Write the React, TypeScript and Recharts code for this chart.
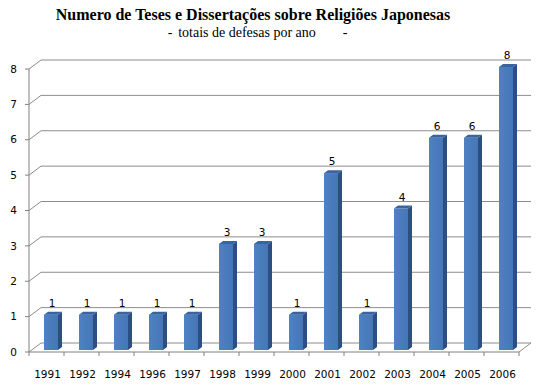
import React from 'react';
import { BarChart, Bar, XAxis, YAxis, CartesianGrid, LabelList } from 'recharts';

const years = ['1991', '1992', '1994', '1996', '1997', '1998', '1999', '2000', '2001', '2002', '2003', '2004', '2005', '2006'];
const defesas = [1, 1, 1, 1, 1, 3, 3, 1, 5, 1, 4, 6, 6, 8];
const yTicks = [0, 1, 2, 3, 4, 5, 6, 7, 8];

const titleText = 'Numero de Teses e Dissertações sobre Religiões Japonesas';
const subtitleText = 'totais de defesas por ano';

const data = years.map((y, i) => ({ year: y, value: defesas[i] }));

const W = 542;
const H = 388;
const XH = 30;
const M = { top: 69, right: 23, bottom: 6, left: 0 };
const YW = 29;
const DX = 12;
const DY = -9;
const BW = (W - YW - M.right) / years.length;
const floorY = H - M.bottom - XH;

const Bar3D = (props: any) => {
  const { x, y, width, height } = props;
  if (height == null || height <= 0) return null;
  const fx = x + 4;
  const fy = y - 2;
  const w = width;
  const h = height;
  const d = 4;
  const u = 3;
  return (
    <g>
      <rect x={fx} y={fy} width={w} height={h} fill="url(#frontGrad)" />
      <polygon
        points={`${fx},${fy} ${fx + d},${fy - u} ${fx + w + d},${fy - u} ${fx + w},${fy}`}
        fill="#3a64a0"
      />
      <polygon
        points={`${fx + w},${fy} ${fx + w + d},${fy - u} ${fx + w + d},${fy + h - u} ${fx + w},${fy + h}`}
        fill="#2b4f82"
      />
    </g>
  );
};

const ValueLabel = (props: any) => {
  const { x, y, width, value } = props;
  return (
    <text
      x={x + 4 + width / 2 + 1}
      y={y - 10}
      textAnchor="middle"
      fontFamily="DejaVu Sans"
      fontSize={10.5}
      fill="#000"
    >
      {value}
    </text>
  );
};

const GridLine = (props: any) => {
  const { x1, y1, x2, y2 } = props;
  const isFloor = Math.abs(y1 - floorY) < 1;
  return (
    <g key={props.key}>
      <polyline
        points={`${x1},${y1} ${x1 + DX},${y1 + DY} ${x2 + DX},${y2 + DY}`}
        fill="none"
        stroke="#8c8c8c"
        strokeWidth={1}
      />
      {isFloor && (
        <line x1={x2} y1={y2} x2={x2 + DX} y2={y2 + DY} stroke="#8c8c8c" strokeWidth={1} />
      )}
    </g>
  );
};

const XTick = (props: any) => {
  const { x, payload, index } = props;
  const last = index === years.length - 1;
  return (
    <g>
      <line x1={x - BW / 2} y1={floorY} x2={x - BW / 2} y2={floorY + 4} stroke="#808080" />
      {last && <line x1={x + BW / 2} y1={floorY} x2={x + BW / 2} y2={floorY + 4} stroke="#808080" />}
      <text x={x + 1} y={floorY + 26} textAnchor="middle" fontFamily="DejaVu Sans" fontSize={10.5} fill="#000">
        {payload.value}
      </text>
    </g>
  );
};

export default function App() {
  return (
    <div style={{ position: 'absolute', left: 0, top: 0, width: W, height: H, background: '#fff' }}>
      <svg width={W} height={H} style={{ position: 'absolute', left: 0, top: 0 }}>
        <text x={253} y={20} textAnchor="middle" fontFamily="Liberation Serif" fontWeight="bold" fontSize={16} fill="#000">
          {titleText}
        </text>
        <text x={170} y={37} textAnchor="middle" fontFamily="Liberation Serif" fontSize={14} fill="#000">-</text>
        <text x={247} y={37} textAnchor="middle" fontFamily="Liberation Serif" fontSize={14} fill="#000">
          {subtitleText}
        </text>
        <text x={345} y={37} textAnchor="middle" fontFamily="Liberation Serif" fontSize={14} fill="#000">-</text>
      </svg>
      <div style={{ position: 'absolute', left: 0, top: 0 }}>
        <BarChart width={W} height={H} data={data} margin={M} barSize={14}>
          <defs>
            <linearGradient id="frontGrad" x1="0" y1="0" x2="1" y2="0">
              <stop offset="0%" stopColor="#4e82c4" />
              <stop offset="100%" stopColor="#4676b5" />
            </linearGradient>
          </defs>
          <CartesianGrid vertical={false} horizontal={GridLine as any} />
          <XAxis
            dataKey="year"
            height={XH}
            axisLine={{ stroke: '#808080' }}
            tickLine={false}
            tick={XTick as any}
            interval={0}
          />
          <YAxis
            width={YW}
            domain={[0, 8]}
            ticks={yTicks}
            interval={0}
            axisLine={{ stroke: '#808080' }}
            tickLine={{ stroke: '#808080' }}
            tickSize={4}
            tickMargin={8}
            tick={{ fontFamily: 'DejaVu Sans', fontSize: 10.5, fill: '#000' }}
          />
          <Bar dataKey="value" shape={Bar3D as any} isAnimationActive={false}>
            <LabelList dataKey="value" content={ValueLabel as any} />
          </Bar>
        </BarChart>
      </div>
    </div>
  );
}
